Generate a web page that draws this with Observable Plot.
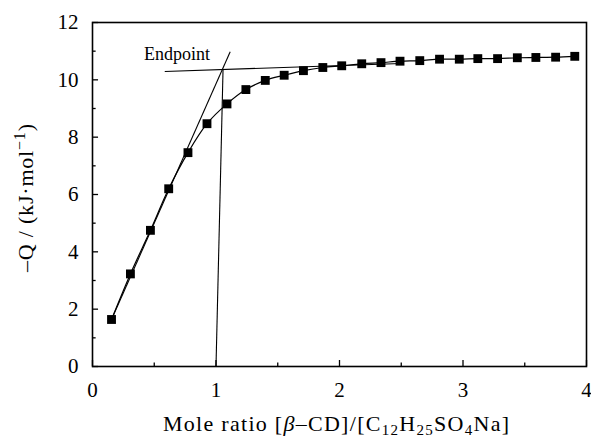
<!DOCTYPE html>
<html><head><meta charset="utf-8">
<script src="https://cdn.jsdelivr.net/npm/d3@7"></script>
<script src="https://cdn.jsdelivr.net/npm/@observablehq/plot@0.6"></script>
<style>body{margin:0;background:#fff} svg text{font-family:'Liberation Serif','Times New Roman',serif !important;}</style>
</head><body><div id="chart"></div>
<script>
const ratio = [0.154,0.307,0.469,0.617,0.773,0.927,1.089,1.242,1.399,1.552,1.708,1.865,2.018,2.18,2.336,2.49,2.65,2.81,2.97,3.12,3.28,3.44,3.59,3.75,3.905];
const heat = [1.64,3.23,4.75,6.20,7.46,8.47,9.16,9.66,9.98,10.16,10.32,10.43,10.49,10.56,10.60,10.65,10.67,10.72,10.72,10.74,10.74,10.77,10.78,10.79,10.82];
const xTicks = [0,1,2,3,4];
const xMinor = [0.5,1.5,2.5,3.5];
const yTicks = [0,2,4,6,8,10,12];
const yMinor = [1,3,5,7,9,11];
const tangentSteep = [{x1:0.154,y1:1.64,x2:1.115,y2:10.98}];
const tangentFlat = [{x1:0.585,y1:10.29,x2:2.5,y2:10.57}];
const endLine = [{x1:1.0,y1:0,x2:1.057,y2:10.36}];
const endLabel = [{x:0.685,y:10.9,t:"Endpoint"}];

const data = ratio.map((x,i)=>({x, y:heat[i]}));
const font = "'Liberation Serif', 'Times New Roman', serif";
const tickLenY = 0.21, tickLenX = 0.049;

const plot = Plot.plot({
  width: 591, height: 443,
  marginLeft: 92, marginRight: 5, marginTop: 22, marginBottom: 77,
  style: {fontFamily: font, fontSize: "21px", color: "#000", background: "#fff", overflow: "visible"},
  x: {domain: [0,4]},
  y: {domain: [0,12]},
  marks: [
    Plot.axisX(xTicks, {tickSize: 0, tickPadding: 16, fontSize: 21, tickFormat: "d", label: null}),
    Plot.axisY(yTicks, {tickSize: 0, tickPadding: 14, fontSize: 21, tickFormat: "d", label: null}),
    Plot.ruleX(xTicks, {x: d=>d, y1: 0, y2: tickLenY, strokeWidth: 1.3}),
    Plot.ruleX(xMinor, {x: d=>d, y1: 0, y2: tickLenY*0.6, strokeWidth: 1.3}),
    Plot.ruleY(yTicks, {y: d=>d, x1: 0, x2: tickLenX, strokeWidth: 1.3}),
    Plot.ruleY(yMinor, {y: d=>d, x1: 0, x2: tickLenX*0.6, strokeWidth: 1.3}),
    Plot.link(tangentSteep, {x1:"x1",y1:"y1",x2:"x2",y2:"y2", stroke:"#000", strokeWidth:1.1}),
    Plot.link(tangentFlat, {x1:"x1",y1:"y1",x2:"x2",y2:"y2", stroke:"#000", strokeWidth:1.1}),
    Plot.link(endLine, {x1:"x1",y1:"y1",x2:"x2",y2:"y2", stroke:"#000", strokeWidth:1.1}),
    Plot.line(data, {x:"x", y:"y", curve:"catmull-rom", stroke:"#000", strokeWidth:1.2}),
    Plot.dot(data, {x:"x", y:"y", symbol:"square", r:5, fill:"#000", stroke:"none"}),
    Plot.text(endLabel, {x:"x", y:"y", text:"t", fontSize:18, fill:"#000"}),
    Plot.frame({stroke:"#000", strokeWidth:1.6})
  ]
});
document.getElementById("chart").appendChild(plot);

const svg = d3.select(plot);
// x label with subscripts
const xl = svg.append("text").attr("x", 336).attr("y", 431)
  .attr("text-anchor","middle").attr("font-size", 22).attr("fill","#000")
  .attr("textLength", 346).attr("lengthAdjust", "spacing");
xl.append("tspan").text("Mole ratio [");
xl.append("tspan").attr("font-style","italic").text("β");
xl.append("tspan").text("\u2013CD]/[C");
xl.append("tspan").attr("font-size",15).attr("dy",4).text("12");
xl.append("tspan").attr("dy",-4).text("H");
xl.append("tspan").attr("font-size",15).attr("dy",4).text("25");
xl.append("tspan").attr("dy",-4).text("SO");
xl.append("tspan").attr("font-size",15).attr("dy",4).text("4");
xl.append("tspan").attr("dy",-4).text("Na]");
// y label with superscript
const yl = svg.append("text").attr("transform","translate(33,198) rotate(-90)")
  .attr("text-anchor","middle").attr("font-size", 22).attr("fill","#000")
  .attr("textLength", 148).attr("lengthAdjust", "spacing");
yl.append("tspan").text("\u2013Q / (kJ\u00B7mol");
yl.append("tspan").attr("font-size",16).attr("dy",-8).text("\u22121");
yl.append("tspan").attr("dy",8).text(")");
</script>
</body></html>
